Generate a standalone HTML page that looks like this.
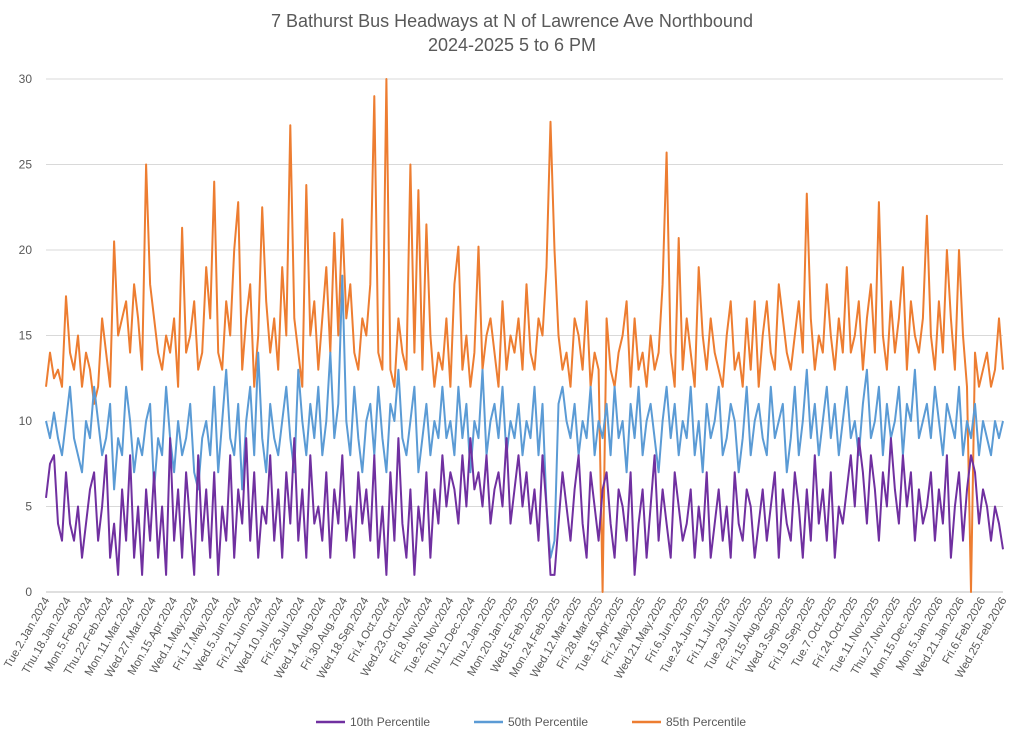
<!DOCTYPE html>
<html><head><meta charset="utf-8">
<style>
body{margin:0;background:#fff;}
svg{display:block;font-family:"Liberation Sans",sans-serif;}
</style></head>
<body>
<svg id="chart" width="1024" height="740" viewBox="0 0 1024 740">
<text x="512" y="27" text-anchor="middle" font-size="18" fill="#595959">7 Bathurst Bus Headways at N of Lawrence Ave Northbound</text>
<text x="512" y="51" text-anchor="middle" font-size="18" fill="#595959">2024-2025 5 to 6 PM</text>
<g id="grid"></g><g id="ylabels"></g><g id="xlabels"></g><g id="series"></g>
<g font-size="12" fill="#595959">
<line x1="316" y1="722" x2="345" y2="722" stroke="#7030a0" stroke-width="2.5"/>
<text x="350" y="726">10th Percentile</text>
<line x1="474" y1="722" x2="503" y2="722" stroke="#5b9bd5" stroke-width="2.5"/>
<text x="508" y="726">50th Percentile</text>
<line x1="632" y1="722" x2="661" y2="722" stroke="#ed7d31" stroke-width="2.5"/>
<text x="666" y="726">85th Percentile</text>
</g>
</svg>
<script>
const yTicks=[0,5,10,15,20,25,30];
const xLabels=["Tue.2.Jan.2024","Thu.18.Jan.2024","Mon.5.Feb.2024","Thu.22.Feb.2024","Mon.11.Mar.2024","Wed.27.Mar.2024","Mon.15.Apr.2024","Wed.1.May.2024","Fri.17.May.2024","Wed.5.Jun.2024","Fri.21.Jun.2024","Wed.10.Jul.2024","Fri.26.Jul.2024","Wed.14.Aug.2024","Fri.30.Aug.2024","Wed.18.Sep.2024","Fri.4.Oct.2024","Wed.23.Oct.2024","Fri.8.Nov.2024","Tue.26.Nov.2024","Thu.12.Dec.2024","Thu.2.Jan.2025","Mon.20.Jan.2025","Wed.5.Feb.2025","Mon.24.Feb.2025","Wed.12.Mar.2025","Fri.28.Mar.2025","Tue.15.Apr.2025","Fri.2.May.2025","Wed.21.May.2025","Fri.6.Jun.2025","Tue.24.Jun.2025","Fri.11.Jul.2025","Tue.29.Jul.2025","Fri.15.Aug.2025","Wed.3.Sep.2025","Fri.19.Sep.2025","Tue.7.Oct.2025","Fri.24.Oct.2025","Tue.11.Nov.2025","Thu.27.Nov.2025","Mon.15.Dec.2025","Mon.5.Jan.2026","Wed.21.Jan.2026","Fri.6.Feb.2026","Wed.25.Feb.2026"];
const p85=[12,14,12.5,13,12,17.3,14,13,15,12,14,13,11,12,16,14,12,20.5,15,16,
17,14,18,16,13,25,18,16,14,13,15,14,16,12,21.3,14,15,17,13,14,
19,16,24,14,13,17,15,20,22.8,13,16,18,12,15,22.5,17,14,16,13,19,
15,27.3,16,14,12,23.8,15,17,13,16,19,14,21,15,21.8,16,18,14,13,16,
15,18,29,14,13,30,13,12,16,14,13,25,14,23.5,13,21.5,15,12,14,13,
16,12,18,20.2,13,15,12,14,20.2,13,15,16,14,12,17,13,15,14,16,13,
18,14,13,16,15,19,27.5,20,15,13,14,12,16,15,13,17,12,14,13,0,
16,13,12,14,15,17,12,16,13,14,12,15,13,14,18,25.7,14,12,20.7,13,
16,14,12,19,15,13,16,14,13,12,15,17,13,14,12,16,13,17,12,15,
17,14,13,18,16,14,13,15,17,14,23.3,16,13,15,14,18,15,13,16,14,
19,14,15,17,13,16,18,14,22.8,15,13,17,14,16,19,13,17,15,14,16,
22,15,13,17,14,20,16,13,20,15,12,0,14,12,13,14,12,13,16,13];
const p50=[10,9,10.5,9,8,10,12,9,8,7,10,9,12,10,8,9,11,6,9,8,
12,10,7,9,8,10,11,6,9,8,12,9,7,10,8,9,11,7,6,9,
10,8,12,7,10,13,9,8,11,6,10,12,8,14,9,7,11,9,8,10,
12,9,7,13,10,8,11,9,12,8,10,14,9,11,18.5,10,8,12,9,7,
10,11,8,12,9,7,11,10,13,9,8,10,12,7,9,11,8,10,9,12,
9,10,8,12,9,11,7,10,9,13,8,10,11,9,12,8,10,9,11,8,
10,9,12,8,11,5,2,3,11,12,10,9,11,8,10,9,12,8,10,9,
11,8,12,9,10,7,11,9,12,8,10,11,9,7,10,12,9,11,8,10,
9,12,8,10,7,11,9,10,12,8,9,11,10,7,9,12,8,10,11,9,
8,12,9,10,11,7,9,12,8,10,13,9,11,8,10,12,9,11,8,10,
12,9,10,8,11,13,9,10,12,8,11,9,10,12,8,11,10,13,9,10,
11,9,12,10,8,11,10,9,12,8,10,9,11,8,10,9,8,10,9,10];
const p10=[5.5,7.5,8,4,3,7,4,3,5,2,4,6,7,3,5,8,2,4,1,6,
3,8,2,5,1,6,3,7,2,5,1,9,3,6,2,7,4,1,8,3,
6,2,7,1,5,3,8,2,6,4,9,3,7,2,5,4,8,3,6,2,
7,4,9,3,6,2,8,4,5,3,7,2,6,4,8,3,5,2,7,4,
6,3,8,2,5,1,7,3,9,4,2,6,1,5,3,7,2,6,4,8,
5,7,6,4,8,5,9,6,7,5,8,4,6,7,5,9,4,6,8,5,
7,4,6,3,8,5,1,1,4,7,5,3,6,8,4,2,7,5,3,6,
7,4,2,6,5,3,7,1,4,6,2,5,8,3,6,4,2,7,5,3,
4,6,2,5,3,7,2,4,6,3,5,2,7,4,3,6,5,2,4,6,
3,5,7,2,6,4,3,7,5,2,6,3,8,4,6,3,7,2,5,4,
6,8,5,9,7,4,8,6,3,7,5,9,6,4,8,5,7,3,6,4,
5,7,3,6,4,8,2,5,7,3,6,8,7,4,6,5,3,5,4,2.5];

const NS="http://www.w3.org/2000/svg";
const X0=46,X1=1003,Y0=592,Y1=79,YMAX=30;
const yScale=v=>Y0-(v/YMAX)*(Y0-Y1);
const xIdx=(i,n)=>X0+i*(X1-X0)/(n-1);
function mk(tag,attrs,parent){const e=document.createElementNS(NS,tag);for(const k in attrs)e.setAttribute(k,attrs[k]);parent.appendChild(e);return e;}
const grid=document.getElementById('grid'),yl=document.getElementById('ylabels'),xl=document.getElementById('xlabels'),ser=document.getElementById('series');
yTicks.forEach(t=>{
  const y=yScale(t);
  const g=mk('line',{x1:X0,x2:X1,y1:y,y2:y,stroke:t===0?'#bfbfbf':'#d9d9d9','stroke-width':1},grid);
  
  
  const tx=mk('text',{x:32,y:y+4,'text-anchor':'end','font-size':12,fill:'#595959'},yl);
  tx.textContent=t;
  
  
});
xLabels.forEach((s,i)=>{
  const x=xIdx(i,xLabels.length)+4,y=600;
  const tx=mk('text',{x:x,y:y,'text-anchor':'end','font-size':11.5,fill:'#595959',transform:`rotate(-60 ${x} ${y})`},xl);
  tx.textContent=s;
  
  
});
[[p85,'#ed7d31','series-85th-percentile'],[p50,'#5b9bd5','series-50th-percentile'],[p10,'#7030a0','series-10th-percentile']].forEach(([d,c,n])=>{
  const pts=d.map((v,i)=>xIdx(i,d.length).toFixed(1)+','+yScale(v).toFixed(1)).join(' ');
  const pl=mk('polyline',{points:pts,fill:'none',stroke:c,'stroke-width':2,'stroke-linejoin':'round'},ser);
  
  
});
</script>
</body></html>
